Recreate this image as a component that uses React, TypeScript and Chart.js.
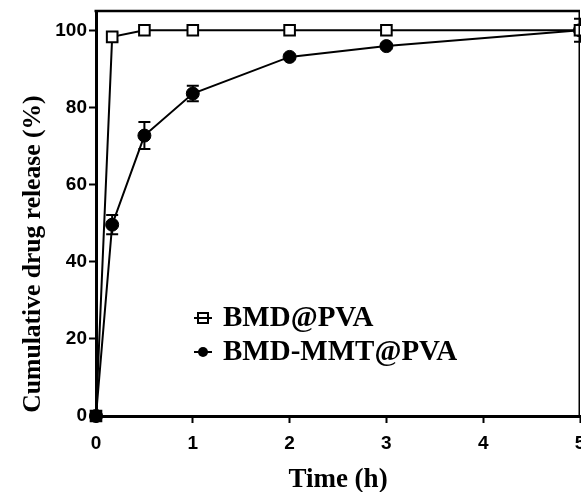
import React, { useEffect, useRef } from "react";
import { Chart, registerables } from "chart.js";

Chart.register(...registerables);

const timeH = [0, 0.167, 0.5, 1, 2, 3, 5];
const pvaRelease = [0, 98.3, 100, 100, 100, 100, 100];
const pvaError = [0, 1.0, 0, 0, 0, 0, 1.0];
const mmtRelease = [0, 49.6, 72.7, 83.6, 93.1, 95.9, 100];
const mmtError = [0, 2.5, 3.5, 2.0, 0.6, 0.6, 3.0];
const seriesLabels = ["BMD@PVA", "BMD-MMT@PVA"];
const xTickValues = [0, 1, 2, 3, 4, 5];
const yTickValues = [0, 20, 40, 60, 80, 100];
const xTitle = "Time (h)";
const yTitle = "Cumulative drug release (%)";

const SERIF = "'Liberation Serif', 'Times New Roman', serif";
const SANS = "'Liberation Sans', Arial, sans-serif";

const errorBarPlugin = {
  id: "errorBars",
  beforeDatasetsDraw(chart: any) {
    const ctx = chart.ctx;
    const xs = chart.scales.x;
    const ys = chart.scales.y;
    chart.data.datasets.forEach((ds: any) => {
      const errs: number[] = ds.errors || [];
      ds.data.forEach((p: any, i: number) => {
        const e = errs[i];
        if (!e) return;
        const px = xs.getPixelForValue(p.x);
        const top = ys.getPixelForValue(p.y + e);
        const bot = ys.getPixelForValue(p.y - e);
        ctx.save();
        ctx.strokeStyle = "#000";
        ctx.lineWidth = 2;
        ctx.beginPath();
        ctx.moveTo(px, top);
        ctx.lineTo(px, bot);
        ctx.moveTo(px - 6, top);
        ctx.lineTo(px + 6, top);
        ctx.moveTo(px - 6, bot);
        ctx.lineTo(px + 6, bot);
        ctx.stroke();
        ctx.restore();
      });
    });
  },
};

const framePlugin = {
  id: "frameAndText",
  afterDraw(chart: any) {
    const ctx = chart.ctx;
    const a = chart.chartArea;
    ctx.save();
    ctx.strokeStyle = "#000";
    ctx.lineWidth = 2.5;
    ctx.beginPath();
    ctx.moveTo(a.left - 1.5, a.top);
    ctx.lineTo(a.right, a.top);
    ctx.stroke();
    ctx.lineWidth = 1.5;
    ctx.beginPath();
    ctx.moveTo(a.right - 0.75, a.top);
    ctx.lineTo(a.right - 0.75, a.bottom);
    ctx.stroke();

    // axis titles
    ctx.fillStyle = "#000";
    ctx.font = `bold 27px ${SERIF}`;
    ctx.textAlign = "center";
    ctx.textBaseline = "alphabetic";
    ctx.fillText(xTitle, (a.left + a.right) / 2, 487);

    ctx.save();
    ctx.translate(33, 254);
    ctx.rotate(-Math.PI / 2);
    ctx.font = `bold 25.6px ${SERIF}`;
    ctx.textBaseline = "middle";
    ctx.fillText(yTitle, 0, 0);
    ctx.restore();

    // legend
    const lx = a.left + 107;
    const rows = [a.top + 307, a.top + 341];
    chart.data.datasets.forEach((ds: any, i: number) => {
      const cy = rows[i];
      ctx.strokeStyle = "#000";
      ctx.lineWidth = 2;
      ctx.beginPath();
      ctx.moveTo(lx - 9, cy);
      ctx.lineTo(lx + 9, cy);
      ctx.stroke();
      if (ds.pointStyle === "rect") {
        ctx.fillStyle = "#fff";
        ctx.fillRect(lx - 5, cy - 5, 10, 10);
        ctx.strokeRect(lx - 5, cy - 5, 10, 10);
        ctx.beginPath();
        ctx.moveTo(lx - 9, cy);
        ctx.lineTo(lx + 9, cy);
        ctx.stroke();
      } else {
        ctx.fillStyle = "#000";
        ctx.beginPath();
        ctx.arc(lx, cy, 5, 0, Math.PI * 2);
        ctx.fill();
      }
      ctx.fillStyle = "#000";
      ctx.font = `bold 29px ${SERIF}`;
      ctx.textAlign = "left";
      ctx.textBaseline = "middle";
      ctx.fillText(ds.label, lx + 20, cy + 1);
    });
    ctx.restore();
  },
};

export default function App() {
  const ref = useRef<HTMLCanvasElement | null>(null);

  useEffect(() => {
    document.body.style.margin = "0";
    document.body.style.overflow = "hidden";
    const canvas = ref.current;
    if (!canvas) return;
    const chart = new Chart(canvas, {
      type: "line",
      data: {
        datasets: [
          {
            label: seriesLabels[0],
            data: timeH.map((x, i) => ({ x, y: pvaRelease[i] })),
            errors: pvaError,
            borderColor: "#000",
            borderWidth: 2,
            pointStyle: "rect",
            pointRadius: 7.5,
            pointBorderWidth: 2,
            pointBorderColor: "#000",
            pointBackgroundColor: (c: any) => (c.dataIndex === 0 ? "#000" : "#fff"),
            tension: 0,
            clip: false,
          } as any,
          {
            label: seriesLabels[1],
            data: timeH.map((x, i) => ({ x, y: mmtRelease[i] })),
            errors: mmtError,
            borderColor: "#000",
            borderWidth: 2,
            pointStyle: "circle",
            pointRadius: 6.5,
            pointBorderWidth: 1,
            pointBorderColor: "#000",
            pointBackgroundColor: "#000",
            tension: 0,
            clip: false,
          } as any,
        ],
      },
      options: {
        animation: false,
        responsive: false,
        devicePixelRatio: 1,
        layout: { autoPadding: false, padding: { top: 11, right: 1, left: 0, bottom: 0 } },
        plugins: {
          legend: { display: false },
          tooltip: { enabled: false },
          title: { display: false },
        },
        scales: {
          x: {
            type: "linear",
            min: 0,
            max: 5,
            afterBuildTicks: (s: any) => {
              s.ticks = xTickValues.map((v) => ({ value: v }));
            },
            afterFit: (s: any) => {
              s.height = 76;
              s.paddingRight = 0;
              s.paddingLeft = 0;
            },
            ticks: {
              color: "#000",
              font: { family: SANS, size: 19, weight: "bold" },
              padding: 9,
              maxRotation: 0,
              autoSkip: false,
            },
            grid: {
              drawOnChartArea: false,
              drawTicks: true,
              tickLength: 7,
              tickWidth: 2,
              tickColor: "#000",
            },
            border: { display: true, color: "#000", width: 3 },
          },
          y: {
            type: "linear",
            min: 0,
            max: 105,
            afterBuildTicks: (s: any) => {
              s.ticks = yTickValues.map((v) => ({ value: v }));
            },
            afterFit: (s: any) => {
              s.width = 96;
              s.paddingTop = 0;
              s.paddingBottom = 0;
            },
            ticks: {
              color: "#000",
              font: { family: SANS, size: 19, weight: "bold" },
              padding: 2,
              autoSkip: false,
            },
            grid: {
              drawOnChartArea: false,
              drawTicks: true,
              tickLength: 7,
              tickWidth: 2,
              tickColor: "#000",
            },
            border: { display: true, color: "#000", width: 3 },
          },
        },
      } as any,
      plugins: [errorBarPlugin, framePlugin],
    });
    return () => chart.destroy();
  }, []);

  return (
    <div style={{ width: 581, height: 492, background: "#fff" }}>
      <canvas ref={ref} width={581} height={492} style={{ display: "block" }} />
    </div>
  );
}
